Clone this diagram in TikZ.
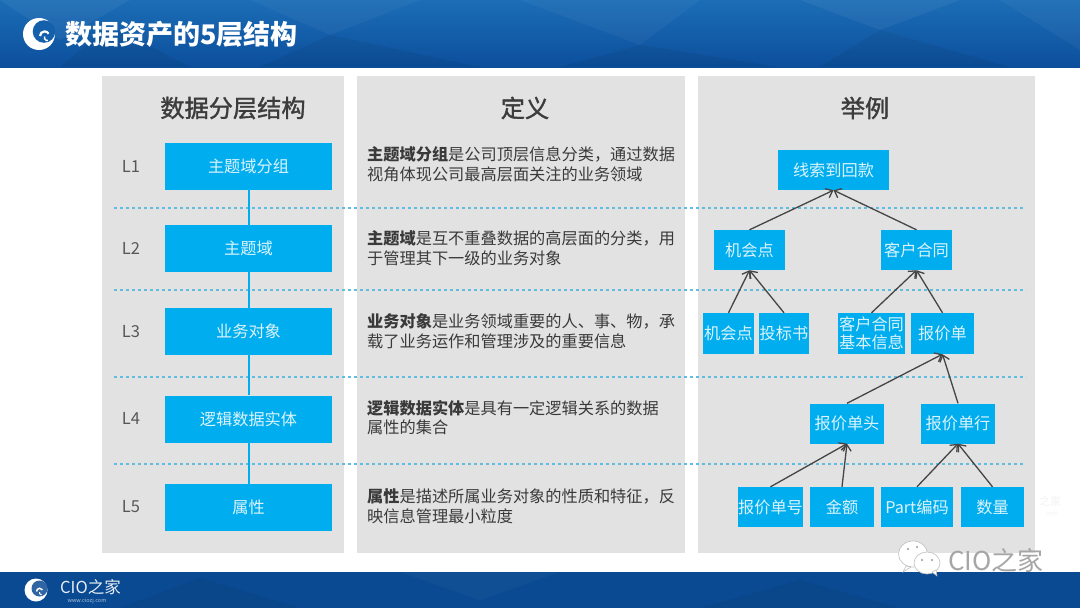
\documentclass[tikz,border=0pt]{standalone}
\usepackage{fontspec}
\setmainfont{Noto Sans CJK SC}
\newfontfamily\headfont[FakeBold=1.4]{Noto Sans CJK SC}
\usetikzlibrary{arrows.meta}
\definecolor{panel}{HTML}{E2E2E2}
\definecolor{boxblue}{HTML}{00AEEF}
\definecolor{boxtext}{HTML}{DDF3FC}
\definecolor{dashblue}{HTML}{62BCDE}
\definecolor{headink}{HTML}{3C3C3C}
\definecolor{bodyink}{HTML}{3A3A3A}
\definecolor{arrowink}{HTML}{454545}
\definecolor{bandA}{HTML}{1C6DB6}
\definecolor{bandB}{HTML}{0C4F9C}
\definecolor{footA}{HTML}{0A4A92}
\tikzset{
  x=1pt,y=-1pt,
  bx/.style={fill=boxblue,draw=none,inner sep=0pt,text=boxtext,font=\fontsize{16.2}{19}\selectfont,align=center},
  lbox/.style={bx,minimum width=167,minimum height=47},
  tbox/.style={bx,minimum height=40},
  head/.style={text=headink,font=\headfont\fontsize{24.2}{26}\selectfont,inner sep=0pt},
  deftext/.style={text=bodyink,font=\fontsize{16.2}{19.5}\selectfont,anchor=west,align=left,inner sep=0pt},
  lvl/.style={text=bodyink!85,font=\fontsize{16.5}{19}\selectfont,inner sep=0pt},
  sep/.style={dashblue,line width=1.6pt,dash pattern=on 3pt off 3pt},
  vlink/.style={boxblue,line width=2pt},
  up/.style={arrowink,line width=1.3pt,-{Straight Barb[length=6pt,width=10pt]},shorten >=0pt},
}
\begin{document}
\begin{tikzpicture}
\useasboundingbox (0,0) rectangle (1080,608);
\fill[white] (0,0) rectangle (1080,608);
% top band
\begin{scope}
\clip (0,0) rectangle (1080,67);
\shade[top color=bandA,bottom color=bandB] (0,0) rectangle (1080,67);
\fill[white,opacity=.05] (0,0)--(130,0)--(60,40)--cycle;
\fill[black,opacity=.06] (60,67)--(110,25)--(190,67)--cycle;
\fill[white,opacity=.04] (250,0)--(420,0)--(330,35)--cycle;
\fill[black,opacity=.05] (330,35)--(480,67)--(260,67)--cycle;
\fill[white,opacity=.04] (520,0)--(700,0)--(640,45)--cycle;
\fill[black,opacity=.05] (640,45)--(780,67)--(560,67)--cycle;
\fill[white,opacity=.05] (800,0)--(960,0)--(880,30)--cycle;
\fill[black,opacity=.05] (880,30)--(1010,67)--(820,67)--cycle;
\fill[white,opacity=.04] (1000,0)--(1080,0)--(1080,50)--cycle;
\end{scope}
\fill[footA] (0,572) rectangle (1080,608);
\begin{scope}
\clip (0,572) rectangle (1080,608);
\fill[black,opacity=.05] (120,608)--(200,578)--(300,608)--cycle;
\fill[white,opacity=.03] (400,572)--(560,572)--(480,600)--cycle;
\fill[black,opacity=.05] (700,608)--(800,580)--(900,608)--cycle;
\end{scope}
% logo top
\fill[white] (39,34) circle (16);
\fill[bandA!55!bandB] (44,31.5) circle (11.3);
\draw[white,line width=2.2pt] (40,36) arc (180:330:4.6);
\draw[white,line width=1.5pt] (44.5,36.5) arc (200:80:3);
\node[inner sep=0pt,anchor=west,text=white,font=\fontsize{27}{30}\selectfont\bfseries] (title) at (65,34) {数据资产的5层结构};
% panels
\fill[panel] (102,76) rectangle (344,553);
\fill[panel] (357,76) rectangle (685,553);
\fill[panel] (698,76) rectangle (1035,553);
\node[head] (h1) at (233,108) {数据分层结构};
\node[head] (h2) at (525,108) {定义};
\node[head] (h3) at (865,108) {举例};
% separators
\coordinate (s1a) at (114,208); \coordinate (s1b) at (1026,208);
\coordinate (s2a) at (114,290); \coordinate (s2b) at (1026,290);
\coordinate (s3a) at (114,377); \coordinate (s3b) at (1026,377);
\coordinate (s4a) at (114,464); \coordinate (s4b) at (1026,464);
\draw[sep] (s1a)--(s1b);
\draw[sep] (s2a)--(s2b);
\draw[sep] (s3a)--(s3b);
\draw[sep] (s4a)--(s4b);
% left column
\node[lvl] (l1) at (131,166) {L1};
\node[lvl] (l2) at (131,248) {L2};
\node[lvl] (l3) at (131,332) {L3};
\node[lvl] (l4) at (131,418.5) {L4};
\node[lvl] (l5) at (131,506.5) {L5};
\node[lbox] (a1) at (248.5,166.5) {\raisebox{-1pt}{主题域分组}};
\node[lbox] (a2) at (248.5,248.5) {\raisebox{-1pt}{主题域}};
\node[lbox] (a3) at (248.5,331.5) {\raisebox{-1pt}{业务对象}};
\node[lbox] (a4) at (248.5,419) {\raisebox{-1pt}{逻辑数据实体}};
\node[lbox] (a5) at (248.5,507.5) {\raisebox{-1pt}{属性}};
\draw[vlink] (a1)--(a2);
\draw[vlink] (a2)--(a3);
\draw[vlink] (a3)--(a4);
\draw[vlink] (a4)--(a5);
% definitions
\node[deftext] (d1) at (367,164) {\textbf{主题域分组}是公司顶层信息分类，通过数据\\视角体现公司最高层面关注的业务领域};
\node[deftext] (d2) at (367,248) {\textbf{主题域}是互不重叠数据的高层面的分类，用\\于管理其下一级的业务对象};
\node[deftext] (d3) at (367,331) {\textbf{业务对象}是业务领域重要的人、事、物，承\\载了业务运作和管理涉及的重要信息};
\node[deftext] (d4) at (367,417.5) {\textbf{逻辑数据实体}是具有一定逻辑关系的数据\\属性的集合};
\node[deftext] (d5) at (367,506) {\textbf{属性}是描述所属业务对象的性质和特征，反\\映信息管理最小粒度};
% tree
\node[tbox,minimum width=111] (t0) at (833.5,170) {线索到回款};
\node[tbox,minimum width=71] (t1) at (749.5,250) {机会点};
\node[tbox,minimum width=71] (t2) at (916.5,250) {客户合同};
\node[tbox,minimum width=51,minimum height=41] (t3) at (728.5,333.5) {机会点};
\node[tbox,minimum width=50,minimum height=41] (t4) at (784,333.5) {投标书};
\node[tbox,minimum width=67,minimum height=41,font=\fontsize{16.2}{18}\selectfont] (t5) at (871.5,333.5) {客户合同\\基本信息};
\node[tbox,minimum width=63,minimum height=41] (t6) at (942.5,333.5) {报价单};
\node[tbox,minimum width=74] (t7) at (847,423.5) {报价单头};
\node[tbox,minimum width=74] (t8) at (958,423.5) {报价单行};
\node[tbox,minimum width=63] (t9) at (770.5,507) {报价单号};
\node[tbox,minimum width=64] (t10) at (842,507) {金额};
\node[tbox,minimum width=72] (t11) at (917,507) {Part编码};
\node[tbox,minimum width=63] (t12) at (992.5,507) {数量};
\draw[up] (t1.north)--(t0.south);
\draw[up] (t2.north)--(t0.south);
\draw[up] (t3.north)--(t1.south);
\draw[up] (t4.north)--(t1.south);
\draw[up] (t5.north)--(t2.south);
\draw[up] (t6.north)--(t2.south);
\draw[up] (t7.north)--(t6.south);
\draw[up] (t8.north)--(t6.south);
\draw[up] (t9.north)--(t7.south);
\draw[up] (t10.north)--(t7.south);
\draw[up] (t11.north)--(t8.south);
\draw[up] (t12.north)--(t8.south);
% faint watermark
\node[inner sep=0pt,text=black!5,font=\fontsize{11}{12}\selectfont] (w1) at (1050,501) {之家};
\node[inner sep=0pt,text=black!5,font=\fontsize{6}{7}\selectfont] (w2) at (1051,514) {.com};
% wechat mark
\begin{scope}
\filldraw[white,draw=black!25,line width=.6pt] (913,554) ellipse (14.5 and 13);
\filldraw[white,draw=black!25,line width=.6pt] (906,566)--(903,572)--(911,567)--cycle;
\filldraw[white,draw=black!25,line width=.6pt] (927,563) ellipse (13 and 11);
\filldraw[white,draw=black!25,line width=.6pt] (932,572)--(937,576)--(936,570)--cycle;
\fill[black!40] (908,549) circle (1.2) (917,547) circle (1.2);
\fill[black!40] (922,560) circle (1.2) (932,560) circle (1.2);
\end{scope}
\node[inner sep=0pt,text=black!35,font=\fontsize{26}{28}\selectfont] (wm) at (996,560) {CIO之家};
% footer logo
\fill[white] (36,590) circle (11.5);
\fill[footA!85!white] (39.5,588.5) circle (8);
\draw[white,line width=1.5pt] (36.5,591.5) arc (180:330:3.2);
\draw[white,line width=1pt] (39.5,592) arc (200:80:2);
\node[inner sep=0pt,anchor=west,text=white!90!footA,font=\fontsize{16.5}{18}\selectfont] (f1) at (60,587) {CIO之家};
\node[inner sep=0pt,text=white!65!footA,font=\fontsize{5.5}{6}\selectfont] (f2) at (87,601) {www.ciozj.com};
\end{tikzpicture}
\end{document}
